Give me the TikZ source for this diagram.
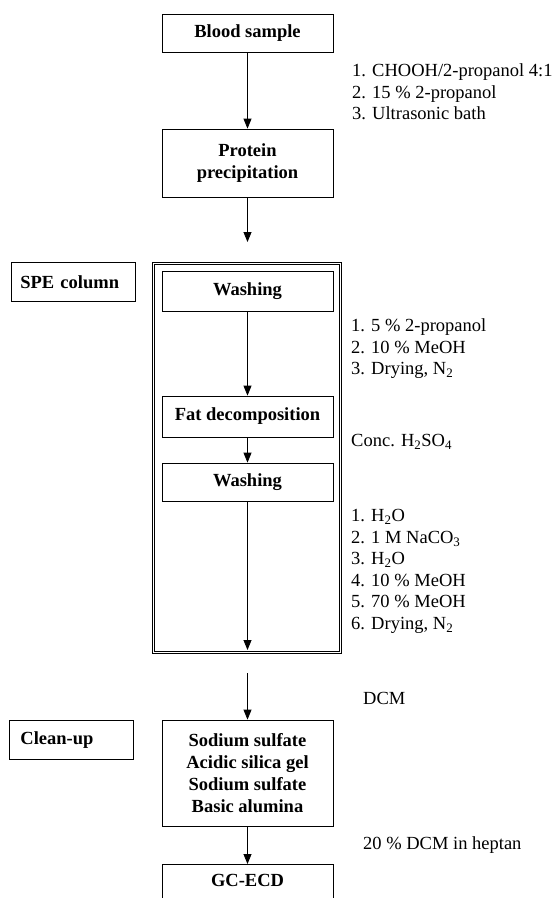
\documentclass[tikz,border=0pt]{standalone}
\usepackage{fontspec}
\setmainfont{Liberation Serif}
\usetikzlibrary{arrows.meta}
\begin{document}
\begin{tikzpicture}[x=1pt,y=-1pt,
  every node/.style={font=\fontsize{18.5}{21.5}\selectfont},
  flowbox/.style={draw, line width=0.8pt, minimum width=171pt, inner sep=0pt, align=center, font=\fontsize{18.5}{22}\selectfont\bfseries},
  labelbox/.style={draw, line width=0.8pt, minimum height=39pt, inner ysep=0pt, align=left, font=\fontsize{18.5}{22}\selectfont\bfseries},
  note/.style={anchor=west, align=left, inner sep=0pt},
  flow/.style={line width=0.8pt, -{Triangle[length=10pt,width=8pt]}}
]
\clip (0,0) rectangle (554,898);
\fill[white] (0,0) rectangle (554,898);

\node[flowbox, minimum height=38pt] (blood) at (247.5,33.5) {Blood sample};
\node[flowbox, minimum height=68pt] (protein) at (247.5,163) {Protein\\precipitation};
\coordinate (p1) at (247.5,242);

\node[draw, double, double distance=1.6pt, line width=0.7pt, minimum width=187pt, minimum height=389pt, inner sep=0pt] (spebox) at (247,458) {};
\node[labelbox, anchor=north west, text width=106pt, inner xsep=9pt] (spe) at (11,262) {SPE column};

\node[flowbox, minimum height=40pt] (wash1) at (247.5,291) {Washing};
\node[flowbox, minimum height=41pt] (fat) at (247.5,416.5) {Fat decomposition};
\node[flowbox, minimum height=38pt] (wash2) at (247.5,482) {Washing};
\coordinate (p2) at (247.5,650);
\coordinate (p3) at (247.5,673);

\node[labelbox, anchor=north west, text width=102pt, inner xsep=11pt] (clean) at (9,720) {Clean-up};
\node[flowbox, minimum height=106pt] (sodium) at (247.5,773) {Sodium sulfate\\Acidic silica gel\\Sodium sulfate\\Basic alumina};
\node[flowbox, anchor=north, text height=22pt, text depth=30pt] (gc) at (247.5,864) {GC-ECD};

\draw[flow] (blood) -- (protein);
\draw[flow] (protein) -- (p1);
\draw[flow] (wash1) -- (fat);
\draw[flow] (fat) -- (wash2);
\draw[flow] (wash2) -- (p2);
\draw[flow] (p3) -- (sodium);
\draw[flow] (sodium.south) -- (sodium.south |- gc.north);

\node[note] (n1) at (352,92) {1. CHOOH/2-propanol 4:1\\2. 15 \% 2-propanol\\3. Ultrasonic bath};
\node[note] (n2) at (351,349) {1. 5 \% 2-propanol\\2. 10 \% MeOH\\3. Drying, N\textsubscript{2}};
\node[note] (n3) at (351,442) {Conc. H\textsubscript{2}SO\textsubscript{4}};
\node[note] (n4) at (351,571.5) {1. H\textsubscript{2}O\\2. 1 M NaCO\textsubscript{3}\\3. H\textsubscript{2}O\\4. 10 \% MeOH\\5. 70 \% MeOH\\6. Drying, N\textsubscript{2}};
\node[note] (n5) at (363,698) {DCM};
\node[note] (n6) at (363,845) {20 \% DCM in heptan};
\end{tikzpicture}
\end{document}
